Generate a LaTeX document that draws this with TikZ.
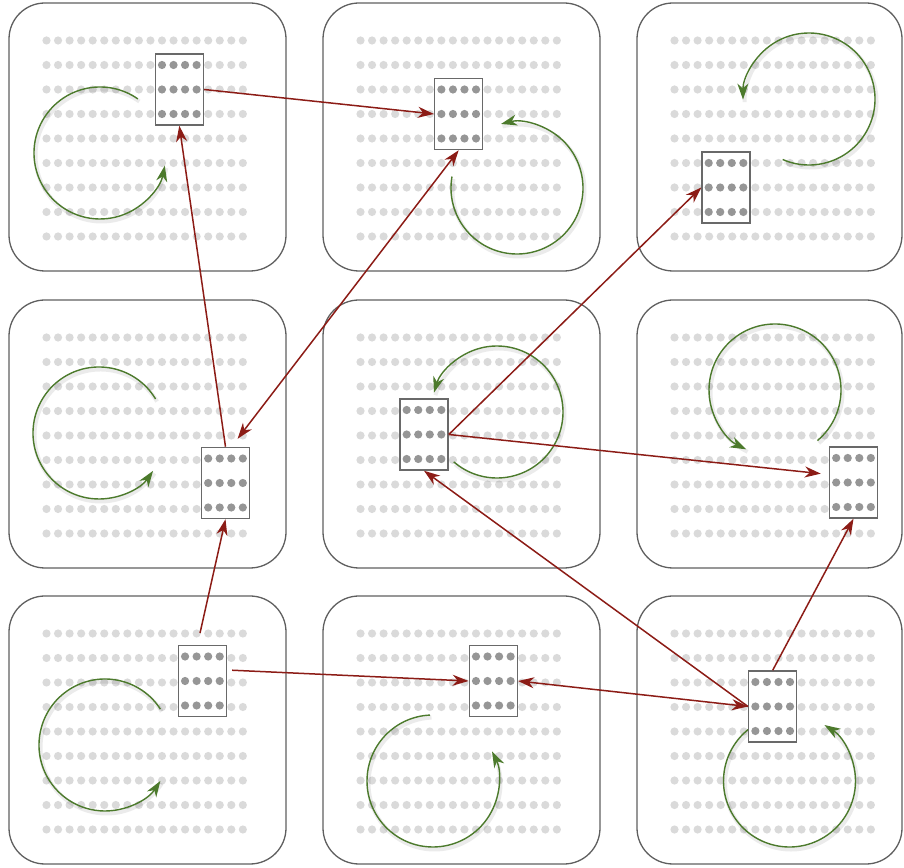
\documentclass[tikz,border=0pt]{standalone}
\usetikzlibrary{arrows.meta}
\definecolor{tileline}{RGB}{95,95,95}
\definecolor{holegrey}{RGB}{218,218,218}
\definecolor{pingrey}{RGB}{150,150,150}
\definecolor{chipline}{RGB}{105,105,105}
\definecolor{linkred}{RGB}{140,28,22}
\definecolor{spingreen}{RGB}{76,122,44}
\tikzset{
    >={Stealth[length=16pt,width=11pt,inset=5pt]},
    tile/.style={draw=tileline,line width=1.3pt,rounded corners=36pt},
    hole/.style={fill=holegrey},
    chip/.style={draw=chipline,fill=white,line width=1.5pt,inner sep=0pt,
        minimum width=48pt,minimum height=71pt,
        path picture={
            \foreach \i in {-1.5,-0.5,0.5,1.5}
                \foreach \j in {-1,0,1}
                    \fill[pingrey] ([shift={(\i*11.55pt,\j*24.5pt)}]path picture bounding box.center) circle (4.1pt);
        }},
    link/.style={draw=linkred,line width=1.5pt},
    spin/.style={draw=spingreen,line width=1.4pt,->,
        preaction={draw=black,opacity=.08,line width=4pt,-,
            transform canvas={shift={(1.5pt,-2.5pt)}}}}
}
\begin{document}
\begin{tikzpicture}[x=1pt,y=1pt]
    \useasboundingbox (0,0) rectangle (904,867);
    \foreach \tx/\ty/\tw in {9/596/277,323/596/277,637/596/265,
                             9/299/277,323/299/277,637/299/265,
                             9/3/277,323/3/277,637/3/265}{
        \draw[tile] (\tx,\ty) rectangle ++(\tw,268);
        \foreach \i in {0,...,17}
            \foreach \j in {0,...,8}
                \fill[hole] (\tx+37.5+\i*11.55,\ty+230.5-\j*24.5) circle (4.1pt);
    }
    \foreach \cx/\cy/\a in {100/714/55,517/679/170,809/768/-113.5,
                            99/434/31,497/455/-131,775/477/-50,
                            105/122/33,433/86/92.6,789.5/86/124}
        \draw[spin] (\cx,\cy) ++(\a:66pt) arc[start angle=\a,delta angle=294,radius=66pt];
    \node[chip] (chip1) at (179.3,777.5) {};
    \node[chip] (chip2) at (458.7,753) {};
    \node[chip] (chip3) at (726,679.5) {};
    \node[chip] (chip4) at (225.5,384) {};
    \node[chip] (chip5) at (424,432.5) {};
    \node[chip] (chip6) at (853.5,384.5) {};
    \node[chip] (chip7) at (202.4,186) {};
    \node[chip] (chip8) at (493.3,186) {};
    \node[chip] (chip9) at (772.7,160.5) {};
    \draw[link,->] (chip1.east) -- (chip2.west);
    \draw[link,->] (chip4.north) -- (chip1.south);
    \draw[link,<->,shorten >=10pt] (chip2.south) -- ([xshift=6pt]chip4.north);
    \draw[link,->,shorten <=12pt] ([xshift=-5pt]chip7.north) -- (chip4.south);
    \draw[link,->,shorten <=5pt] ([yshift=11pt]chip7.east) -- (chip8.west);
    \draw[link,<->] (chip8.east) -- (chip9.west);
    \draw[link,->] (chip9.west) -- (chip5.south);
    \draw[link,->] (chip9.north) -- (chip6.south);
    \draw[link,->,shorten >=8pt] (chip5.east) -- ([yshift=8pt]chip6.west);
    \draw[link,->] (chip5.east) -- (chip3.west);
\end{tikzpicture}
\end{document}
